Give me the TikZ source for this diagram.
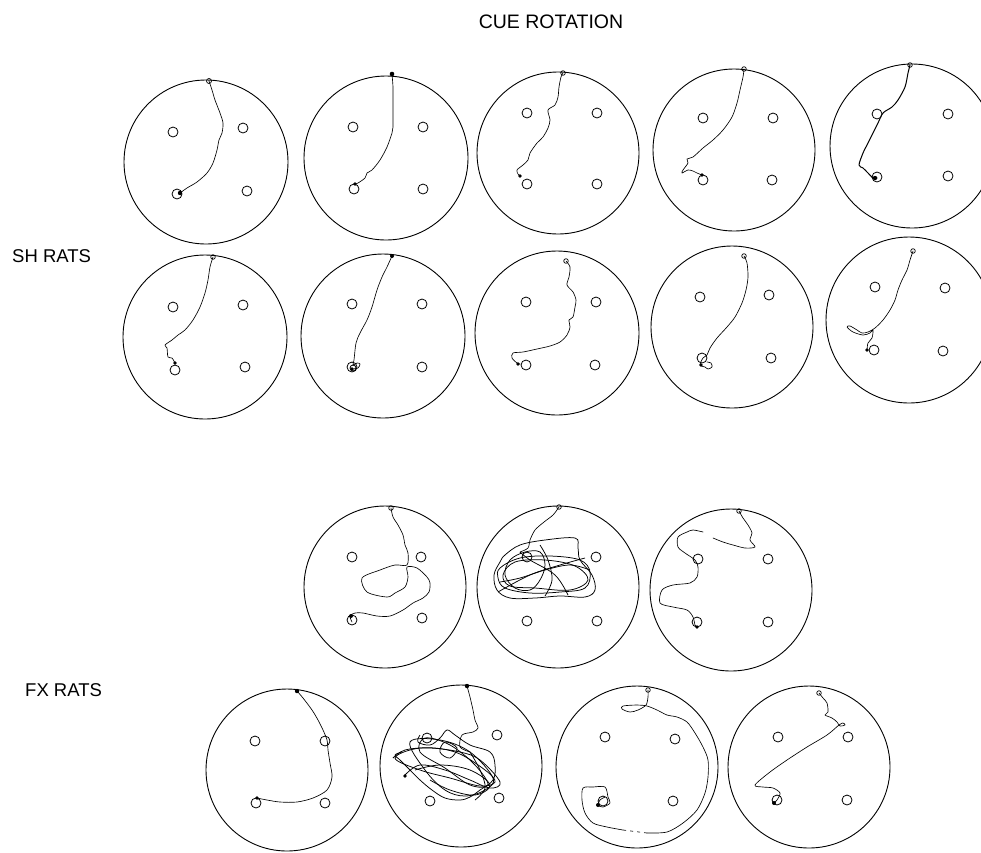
\documentclass[tikz,border=0pt]{standalone}
\usepackage{fontspec}
\setmainfont{Liberation Sans}
\begin{document}
\begin{tikzpicture}[x=1pt,y=-1pt,
  arena/.style={draw=black,line width=0.9pt},
  pool/.style={draw=black,line width=0.8pt},
  track/.style={draw=black,line width=0.65pt,line join=round,line cap=round},
  tangle/.style={draw=black,line width=0.75pt,line join=round},
  startmk/.style={draw=black,line width=0.7pt},
  endmk/.style={fill=black},
  lbl/.style={font=\fontsize{18.5}{18.5}\selectfont,inner sep=0pt}]
\useasboundingbox (0,0) rectangle (981,852);
% labels
\node[lbl,font=\fontsize{19.5}{19.5}\selectfont] (title) at (551,22) {CUE ROTATION};
\node[lbl,anchor=west] (sh) at (12,256) {SH RATS};
\node[lbl,anchor=west] (fx) at (25,690) {FX RATS};
% helper macro for pools
\newcommand{\pools}[4]{\foreach \p in {#1,#2,#3,#4} \draw[pool] \p circle (5);}
% ---------- SH row 1 ----------
\draw[arena] (206,162) circle (82);
\pools{(173,132)}{(243,128)}{(177,194)}{(247,191)}
\draw[track] plot[smooth,tension=0.5] coordinates {(209,81) (212,90) (215,100) (220,113) (223,123) (222,133) (219,140) (217,150) (213,163) (207,173) (197,182) (187,188) (180,193)};
\draw[startmk] (209,81) circle (2.5); \fill[endmk] (180,193) circle (2.2);

\draw[arena] (386,158) circle (82);
\pools{(353,127)}{(423,127)}{(354,189)}{(423,189)}
\draw[track] plot[smooth,tension=0.5] coordinates {(392,74) (393,87) (393,100) (393,113) (393,127) (392,133) (387,147) (380,160) (372,170) (367,173) (365,178) (358,183) (355,184)};
\fill[endmk] (392,74) circle (2.3); \fill[endmk] (355,184) circle (1.8);

\draw[arena] (558,153) circle (81);
\pools{(527,113)}{(597,113)}{(527,184)}{(597,184)}
\draw[track] plot[smooth,tension=0.5] coordinates {(563,73) (561,77) (559,87) (558,97) (555,105) (548,110) (550,120) (548,128) (543,137) (537,143) (530,153) (528,160) (523,165) (517,170) (518,174) (520,176)};
\draw[startmk] (563,73) circle (2.3); \fill[endmk] (520,176) circle (1.8);

\draw[arena] (734,150) circle (81);
\pools{(703,118)}{(773,118)}{(703,180)}{(772,180)}
\draw[track] plot[smooth,tension=0.5] coordinates {(744,69) (743,77) (740,90) (737,103) (732,117) (723,130) (713,140) (703,148) (693,157) (687,159) (688,163) (683,170) (682,173) (688,170) (693,171) (697,173) (702,175)};
\draw[startmk] (744,69) circle (2.3); \fill[endmk] (702,175) circle (1.8);

\draw[arena] (912,146) circle (82);
\pools{(877,114)}{(948,114)}{(877,177)}{(948,176)}
\draw[track,line width=1pt] plot[smooth,tension=0.5] coordinates {(910,65) (908,73) (905,87) (898,100) (892,107) (883,113) (878,123) (873,133) (868,143) (863,153) (859,165) (863,168) (868,173) (873,178) (877,178)};
\draw[startmk] (910,65) circle (2.3); \fill[endmk] (875,178) circle (2.2);
% ---------- SH row 2 ----------
\draw[arena] (205,337) circle (82);
\pools{(173,307)}{(243,305)}{(175,370)}{(245,367)}
\draw[track] plot[smooth,tension=0.5] coordinates {(213,257) (210,267) (208,280) (205,293) (200,307) (193,320) (185,330) (178,335) (172,340) (165,345) (167,348) (168,357) (172,358) (175,363)};
\draw[startmk] (213,257) circle (2.3); \fill[endmk] (175,363) circle (1.8);

\draw[arena] (383,336) circle (82);
\pools{(352,304)}{(422,304)}{(352,367)}{(422,367)}
\draw[track] plot[smooth,tension=0.5] coordinates {(392,256) (387,267) (382,277) (377,290) (372,307) (367,320) (360,333) (356,343) (354,360) (353,365) (357,363) (360,364) (358,368) (352,369)};
\fill[endmk] (392,256) circle (2); \draw[pool] (353,368) circle (3); \fill[endmk] (352,369) circle (1.8);

\draw[arena] (557,333) circle (82);
\pools{(526,302)}{(596,302)}{(526,365)}{(595,365)}
\draw[track] plot[smooth,tension=0.5] coordinates {(566,261) (570,267) (569,277) (567,285) (573,292) (576,300) (575,307) (573,317) (569,320) (570,327) (567,335) (560,342) (550,346) (537,349) (523,352) (513,353) (512,358) (517,363) (520,364)};
\draw[startmk] (566,261) circle (2.3); \fill[endmk] (518,364) circle (1.8);

\draw[arena] (732,327) circle (81);
\pools{(700,297)}{(769,295)}{(702,358)}{(771,358)}
\draw[track] plot[smooth,tension=0.5] coordinates {(744,256) (747,263) (748,277) (746,290) (742,303) (735,317) (727,327) (717,338) (710,348) (707,355) (703,358) (700,365) (705,367) (708,369) (712,367) (711,363) (707,362)};
\draw[startmk] (744,256) circle (2.3); \fill[endmk] (701,365) circle (1.8);

\draw[arena] (909,320) circle (83);
\pools{(875,287)}{(945,288)}{(874,350)}{(943,351)}
\draw[track] plot[smooth,tension=0.5] coordinates {(913,251) (910,260) (907,270) (902,280) (898,290) (895,300) (890,310) (883,320) (875,328) (868,332) (862,333) (857,330) (850,326) (847,327) (853,332) (863,335) (870,333) (873,330) (872,338) (868,343) (867,350)};
\draw[startmk] (913,251) circle (2.3); \fill[endmk] (867,350) circle (1.8);
% ---------- FX row 1 ----------
\draw[arena] (385,587) circle (81);
\pools{(352,557)}{(421,557)}{(352,620)}{(422,618)}
\draw[track] plot[smooth,tension=0.5] coordinates {(391,508) (393,517) (398,525) (403,535) (405,545) (408,553) (407,565) (395,565) (380,570) (362,578) (367,592) (387,597) (395,593) (405,587) (408,577) (407,567) (417,568) (427,577) (430,583) (429,592) (423,598) (413,603) (403,610) (390,616) (377,616) (363,613) (355,613) (350,616) (352,622)};
\draw[startmk] (391,508) circle (2.3); \fill[endmk] (351,616) circle (2);

\draw[arena] (558,587) circle (81);
\pools{(527,557)}{(596,557)}{(527,621)}{(597,621)}
\draw[track] plot[smooth,tension=0.5] coordinates {(559,507) (553,515) (544,522) (535,530) (530,540) (528,548) (520,552)};
\draw[tangle] plot[smooth cycle,tension=0.6] coordinates {(505,555) (520,545) (545,540) (575,538) (578,548) (580,560) (592,575) (595,590) (585,597) (560,596) (535,598) (510,598) (497,590) (494,575) (500,562)};
\draw[tangle] plot[smooth cycle,tension=0.6] coordinates {(500,568) (520,558) (550,556) (580,560) (590,572) (585,588) (560,592) (530,593) (505,588) (498,578)};
\draw[tangle] plot[smooth cycle,tension=0.6] coordinates {(510,560) (525,552) (540,552) (545,565) (540,580) (530,590) (515,588) (505,575)};
\draw[tangle] plot[smooth cycle,tension=0.6] coordinates {(503,575) (515,562) (545,560) (575,566) (588,580) (570,590) (535,588) (510,586)};
\draw[tangle] plot[smooth,tension=0.6] coordinates {(500,582) (520,578) (545,570) (570,565) (590,570)};
\draw[tangle] plot[smooth,tension=0.6] coordinates {(498,592) (530,575) (560,565) (585,558)};
\draw[tangle] plot[smooth,tension=0.6] coordinates {(520,552) (530,560) (555,575) (568,595)};
\draw[tangle] plot[smooth,tension=0.6] coordinates {(540,545) (548,560) (552,580) (545,596)};
\draw[startmk] (559,507) circle (2.3);

\draw[arena] (731,590) circle (81);
\pools{(698,559)}{(768,559)}{(697,622)}{(768,622)}
\draw[track] plot[smooth,tension=0.5] coordinates {(739,511) (743,518) (748,525) (752,533) (750,540) (755,547) (745,548) (733,545) (723,542) (713,538)};
\draw[track] plot[smooth,tension=0.5] coordinates {(703,532) (693,530) (687,532) (678,537) (678,547) (685,553) (695,560) (698,567) (697,577) (690,583) (673,585) (662,590) (660,603) (673,607) (687,610) (693,617) (695,625) (697,627)};
\draw[startmk] (739,511) circle (2.3); \fill[endmk] (697,627) circle (1.8);
% ---------- FX row 2 ----------
\draw[arena] (287,770) circle (81);
\pools{(255,741)}{(325,741)}{(256,803)}{(325,803)}
\draw[track] plot[smooth,tension=0.5] coordinates {(297,691) (303,698) (312,710) (318,720) (323,730) (327,740) (328,750) (330,763) (332,777) (327,790) (313,798) (297,802) (280,802) (267,800) (257,798)};
\fill[endmk] (297,691) circle (2.2); \fill[endmk] (257,798) circle (1.8);

\draw[arena] (461,766) circle (81);
\pools{(427,738)}{(497,735)}{(430,801)}{(499,798)}
\draw[track] plot[smooth,tension=0.5] coordinates {(467,686) (470,697) (473,710) (475,720) (478,728) (473,732) (462,735) (460,747) (470,752)};
\draw[tangle] plot[smooth,tension=0.6] coordinates {(420,735) (418,742) (430,745) (440,738) (447,730) (455,735) (470,745) (490,752) (495,765) (493,780) (480,790) (470,797) (460,800) (445,798) (432,790) (420,780) (410,770) (400,760) (395,755) (402,752)};
\draw[tangle] plot[smooth,tension=0.6] coordinates {(393,758) (405,750) (430,748) (460,752) (480,760) (500,782) (490,788) (470,780) (445,770) (420,765) (405,775)};
\draw[tangle] plot[smooth,tension=0.6] coordinates {(415,770) (440,765) (470,770) (490,785) (475,795) (450,790) (430,780)};
\draw[tangle] plot[smooth cycle,tension=0.6] coordinates {(440,752) (450,758) (457,748) (445,742)};
\draw[tangle] plot[smooth cycle,tension=0.6] coordinates {(395,758) (420,748) (455,752) (485,770) (495,782) (480,786) (450,778) (420,770)};
\draw[tangle] plot[smooth cycle,tension=0.6] coordinates {(410,742) (440,740) (470,752) (493,778) (485,790) (465,796) (445,790) (425,770)};
\draw[tangle] plot[smooth cycle,tension=0.6] coordinates {(425,738) (450,745) (475,765) (488,785) (470,785) (445,768) (420,752)};
\draw[tangle] plot[smooth,tension=0.6] coordinates {(470,752) (480,770) (485,788) (475,800)};
\fill[endmk] (467,686) circle (2.2); \fill[endmk] (405,776) circle (1.8);

\draw[arena] (637,767) circle (81);
\pools{(605,737)}{(675,739)}{(603,801)}{(673,801)}
\draw[track] plot[smooth,tension=0.5] coordinates {(648,690) (648,697) (646,705) (638,710) (630,712) (622,709) (623,706) (637,705) (647,706) (657,710) (667,715) (677,717) (687,722) (695,733) (703,747) (708,760) (708,777) (705,793) (697,810) (683,823) (667,832) (647,833)};
\draw[draw=black,line width=0.6pt,dash pattern=on 3pt off 4pt] (647,833) -- (623,830);
\draw[track] plot[smooth,tension=0.5] coordinates {(623,830) (607,827) (593,823) (585,813) (582,800) (583,788) (593,787) (605,787) (608,797) (610,803) (603,807) (598,805) (600,800) (605,797)};
\draw[startmk] (648,690) circle (2.3); \fill[endmk] (598,805) circle (2);

\draw[arena] (809,767) circle (81);
\pools{(778,737)}{(848,737)}{(777,800)}{(847,800)}
\draw[track] plot[smooth,tension=0.5] coordinates {(819,693) (823,698) (827,703) (828,712) (825,715) (832,718) (837,722) (840,726) (845,725) (843,723) (839,725) (827,735) (807,747) (787,760) (770,772) (755,785) (763,787) (773,788) (780,793) (777,800) (773,804)};
\draw[startmk] (819,693) circle (2.3); \fill[endmk] (774,803) circle (2);
\end{tikzpicture}
\end{document}
